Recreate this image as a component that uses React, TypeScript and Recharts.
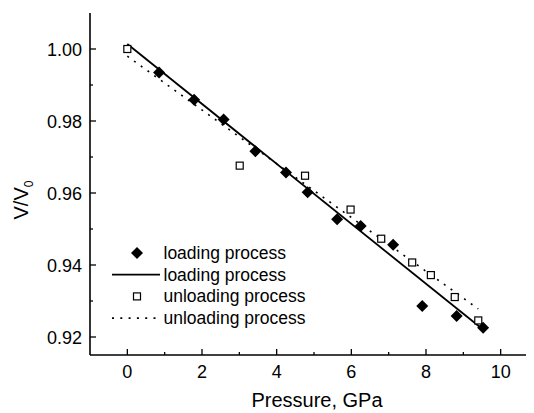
import { ComposedChart, Scatter, Line, XAxis, YAxis, Legend } from 'recharts'

const LOAD_PRESSURE = [0.85, 1.79, 2.58, 3.43, 4.25, 4.83, 5.62, 6.25, 7.12, 7.9, 8.82, 9.53]
const LOAD_VOLUME = [0.9935, 0.9859, 0.9804, 0.9716, 0.9657, 0.9602, 0.9527, 0.9508, 0.9456, 0.9286, 0.9258, 0.9226]

const UNLOAD_PRESSURE = [0, 3.01, 4.76, 5.98, 6.8, 7.63, 8.13, 8.77, 9.4]
const UNLOAD_VOLUME = [1.0, 0.9676, 0.9648, 0.9554, 0.9473, 0.9407, 0.9372, 0.9311, 0.9246]

// linear fits, end points
const LOAD_FIT_PRESSURE = [0, 9.56]
const LOAD_FIT_VOLUME = [1.0014, 0.9218]
const UNLOAD_FIT_PRESSURE = [0, 9.4]
const UNLOAD_FIT_VOLUME = [0.998, 0.9278]

const X_TICKS = [0, 1, 2, 3, 4, 5, 6, 7, 8, 9, 10]
const Y_TICKS = [0.92, 0.93, 0.94, 0.95, 0.96, 0.97, 0.98, 0.99, 1.0]

const LEGEND_ITEMS = [
  { name: 'loading process', kind: 'diamond' },
  { name: 'loading process', kind: 'line' },
  { name: 'unloading process', kind: 'square' },
  { name: 'unloading process', kind: 'dots' },
]

const FONT = '"Liberation Sans", Arial, sans-serif'
const DOTS = '2 6.3'

const toPoints = (ps: number[], vs: number[]) => ps.map((p, i) => ({ p, v: vs[i] }))

const loadData = toPoints(LOAD_PRESSURE, LOAD_VOLUME)
const unloadData = toPoints(UNLOAD_PRESSURE, UNLOAD_VOLUME)
const loadFit = toPoints(LOAD_FIT_PRESSURE, LOAD_FIT_VOLUME)
const unloadFit = toPoints(UNLOAD_FIT_PRESSURE, UNLOAD_FIT_VOLUME)

const Diamond = ({ cx, cy }: any) => (
  <polygon
    points={`${cx},${cy - 6} ${cx + 6},${cy} ${cx},${cy + 6} ${cx - 6},${cy}`}
    fill="#000"
  />
)

const HollowSquare = ({ cx, cy }: any) => (
  <rect x={cx - 3.5} y={cy - 3.5} width={7} height={7} fill="#fff" stroke="#000" strokeWidth={1.2} />
)

const XTick = ({ x, y, payload }: any) => {
  const major = payload.value % 2 === 0
  return (
    <g>
      <line x1={x} x2={x} y1={y} y2={y - (major ? 6 : 3)} stroke="#000" strokeWidth={1.3} />
      {major && (
        <text x={x} y={y + 23} textAnchor="middle" fontSize={18} fontFamily={FONT} fill="#000">
          {payload.value}
        </text>
      )}
    </g>
  )
}

const YTick = ({ x, y, payload }: any) => {
  const major = Math.round(payload.value * 100) % 2 === 0
  return (
    <g>
      <line x1={x} x2={x + (major ? 6 : 3)} y1={y} y2={y} stroke="#000" strokeWidth={1.3} />
      {major && (
        <text x={x - 8} y={y + 6.5} textAnchor="end" fontSize={18} fontFamily={FONT} fill="#000">
          {payload.value.toFixed(2)}
        </text>
      )}
    </g>
  )
}

const LegendBox = () => (
  <svg width={210} height={92}>
    {LEGEND_ITEMS.map((item, i) => {
      const cy = 13 + i * 21.7
      let icon
      if (item.kind === 'diamond') icon = <Diamond cx={29} cy={cy} />
      else if (item.kind === 'square') icon = <HollowSquare cx={29} cy={cy} />
      else
        icon = (
          <line
            x1={4}
            x2={52}
            y1={cy}
            y2={cy}
            stroke="#000"
            strokeWidth={item.kind === 'line' ? 1.8 : 1.6}
            strokeDasharray={item.kind === 'dots' ? DOTS : undefined}
          />
        )
      return (
        <g key={i}>
          {icon}
          <text x={55.5} y={cy + 6} fontSize={17.5} fontFamily={FONT} fill="#000">
            {item.name}
          </text>
        </g>
      )
    })}
  </svg>
)

export default function App() {
  return (
    <div style={{ marginLeft: -8, marginTop: -8, width: 534, height: 413, overflow: 'hidden', background: '#fff' }}>
      <ComposedChart width={560} height={413} margin={{ top: 13, right: 22, bottom: 0, left: 0 }}>
        <XAxis
          dataKey="p"
          type="number"
          domain={[-1, 11]}
          ticks={X_TICKS}
          interval={0}
          height={58}
          tickSize={0}
          tickMargin={0}
          tick={<XTick />}
          axisLine={{ stroke: '#000', strokeWidth: 1.6 }}
          tickLine={false}
          label={{
            content: ({ viewBox }: any) => (
              <text
                x={viewBox.x + viewBox.width / 2 + 3}
                y={viewBox.y + 52}
                textAnchor="middle"
                fontSize={20}
                fontFamily={FONT}
                fill="#000"
              >
                Pressure, GPa
              </text>
            ),
          }}
        />
        <XAxis
          xAxisId="top"
          orientation="top"
          type="number"
          domain={[-1, 11]}
          height={0}
          tick={false}
          tickLine={false}
          axisLine={{ stroke: '#000', strokeWidth: 1.6 }}
        />
        <YAxis
          type="number"
          domain={[0.915, 1.01]}
          ticks={Y_TICKS}
          interval={0}
          width={90}
          tickSize={0}
          tickMargin={0}
          tick={<YTick />}
          axisLine={{ stroke: '#000', strokeWidth: 1.6 }}
          tickLine={false}
          label={{
            content: () => (
              <text
                transform="rotate(-90 28 200)"
                x={28}
                y={200}
                textAnchor="middle"
                fontSize={20}
                fontFamily={FONT}
                fill="#000"
              >
                V/V<tspan fontSize={12} dy={5}>0</tspan>
              </text>
            ),
          }}
        />
        <Legend
          layout="vertical"
          align="center"
          verticalAlign="middle"
          wrapperStyle={{ left: 108, top: 240, width: 210 }}
          content={() => <LegendBox />}
        />
        <Line data={loadFit} dataKey="v" stroke="#000" strokeWidth={1.8} dot={false} isAnimationActive={false} legendType="none" />
        <Line
          data={unloadFit}
          dataKey="v"
          stroke="#000"
          strokeWidth={1.6}
          strokeDasharray={DOTS}
          dot={false}
          isAnimationActive={false}
          legendType="none"
        />
        <Scatter data={unloadData} dataKey="v" shape={<HollowSquare />} isAnimationActive={false} />
        <Scatter data={loadData} dataKey="v" shape={<Diamond />} isAnimationActive={false} />
      </ComposedChart>
    </div>
  )
}
